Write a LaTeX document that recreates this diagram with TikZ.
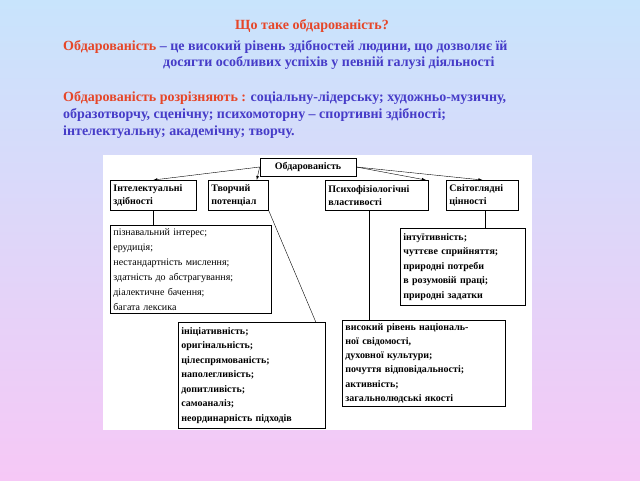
\documentclass[tikz,border=0pt]{standalone}
\usepackage{fontspec}
\setmainfont{Liberation Serif}
\usetikzlibrary{positioning}
\definecolor{headred}{RGB}{230,70,40}
\definecolor{headblue}{RGB}{70,60,200}
\begin{document}
\begin{tikzpicture}[x=1pt,y=-1pt]
\tikzstyle{every node}+=[inner sep=0pt]
\tikzstyle{box}=[draw,thick,anchor=north west,align=left,inner xsep=3pt,inner ysep=3pt,font=\fontsize{10}{15}\selectfont]
\tikzstyle{bold box}=[box,inner ysep=2pt,font=\fontsize{10}{12.5}\selectfont\bfseries]
\shade [top color={rgb,255:red,200;green,228;blue,252},bottom color={rgb,255:red,246;green,200;blue,246}] (0,0) rectangle (640,480);
\useasboundingbox (0,0) rectangle (640,480);
% heading
\begin{scope}[font=\fontsize{14}{16}\selectfont\bfseries]
\node (title) [text=headred] at (312,26) {Що таке обдарованість?};
\node (def) [anchor=west] at (63,47) {\textcolor{headred}{Обдарованість} \textcolor{headblue}{– це високий рівень здібностей людини, що дозволяє їй}};
\node (def2) [anchor=west,text=headblue] at (163,63) {досягти особливих успіхів у певній галузі діяльності};
\node (kinds) [anchor=west] at (63,98) {\textcolor{headred}{Обдарованість розрізняють :} \textcolor{headblue}{соціальну-лідерську; художньо-музичну,}};
\node (kinds2) [anchor=west,text=headblue] at (63,115) {образотворчу, сценічну; психомоторну – спортивні здібності;};
\node (kinds3) [anchor=west,text=headblue] at (63,132) {інтелектуальну; академічну; творчу.};
\end{scope}
% diagram
\fill [white] (103,155) rectangle (532,430);
\node (root) [bold box,anchor=center,minimum width=96pt,minimum height=18pt,align=center] at (308,167) {Обдарованість};
\node (intel) [bold box,text width=80pt,minimum height=30pt] at (110,180) {Інтелектуальні\\здібності};
\node (creat) [bold box,text width=54pt,minimum height=30pt] at (208,180) {Творчий\\потенціал};
\node (psych) [bold box,text width=97pt,minimum height=30pt] at (325,180) {Психофізіологічні\\властивості};
\node (world) [bold box,text width=66pt,minimum height=30pt] at (446,180) {Світоглядні\\цінності};
\node (intelA) [box,text width=155pt,minimum height=88pt] at (110,225) {пізнавальний інтерес;\\ерудиція;\\нестандартність мислення;\\здатність до абстрагування;\\діалектичне бачення;\\багата лексика};
\node (worldA) [box,text width=119pt,minimum height=77pt,font=\fontsize{10}{14.5}\selectfont\bfseries] at (400,228) {інтуїтивність;\\чуттєве сприйняття;\\природні потреби\\в розумовій праці;\\природні задатки};
\node (creatA) [box,text width=141pt,minimum height=106pt,font=\fontsize{10}{14.5}\selectfont\bfseries] at (178,322) {ініціативність;\\оригінальність;\\цілеспрямованість;\\наполегливість;\\допитливість;\\самоаналіз;\\неординарність підходів};
\node (psychA) [box,text width=157pt,minimum height=85pt,font=\fontsize{10}{14.2}\selectfont\bfseries] at (342,320) {високий рівень національ-\\ної свідомості,\\духовної культури;\\почуття відповідальності;\\активність;\\загальнолюдські якості};
\draw [-latex] (root.west) -- (intel.north);
\draw [-latex] (root.west) -- ([xshift=-12pt]creat.north east);
\draw [-latex] (root.east) -- ([xshift=-3pt]psych.north east);
\draw [-latex] (root.east) -- (world.north);
\draw (intel.south) -- (intel.south |- intelA.north);
\draw (creat.south east) -- ([xshift=-10pt]creatA.north east);
\draw ([xshift=-8pt]psych.south) -- ([xshift=-8pt]psych.south |- psychA.north);
\draw ([xshift=3pt]world.south) -- ([xshift=3pt]world.south |- worldA.north);
\end{tikzpicture}
\end{document}
